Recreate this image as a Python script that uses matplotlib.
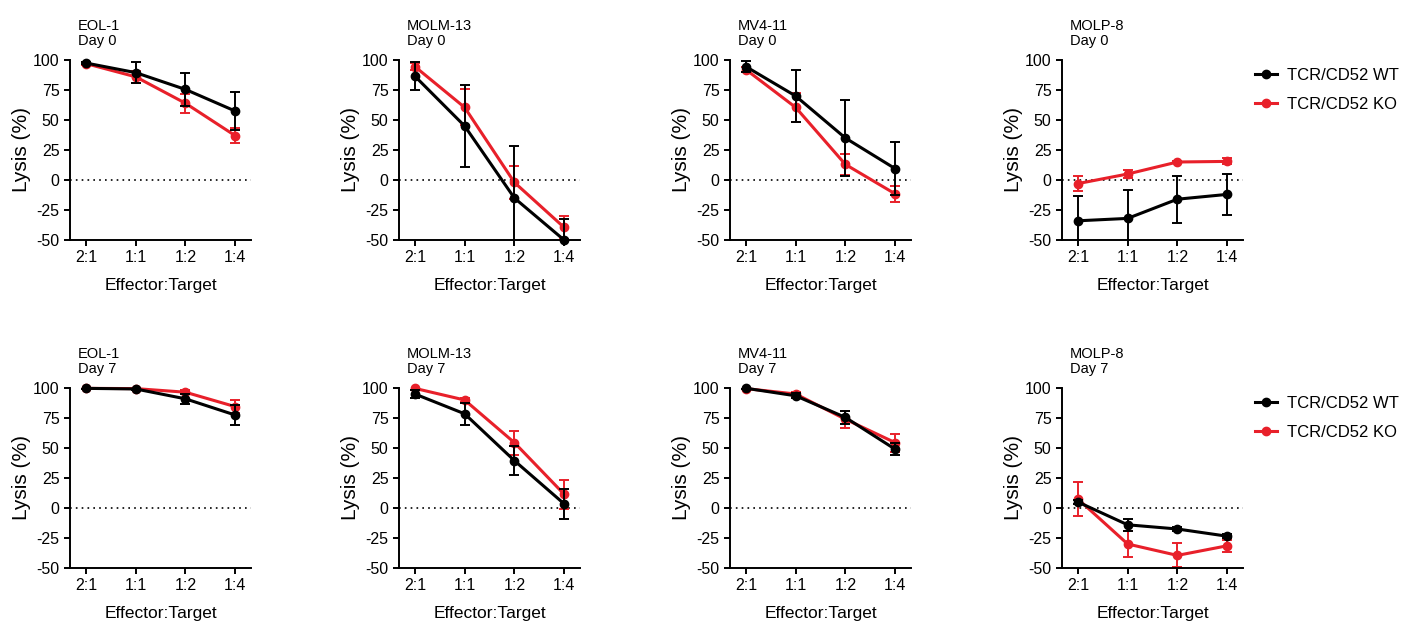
import numpy as np
import matplotlib
matplotlib.use("Agg")
import matplotlib.pyplot as plt

plt.rcParams['font.family'] = ['Liberation Sans', 'DejaVu Sans']
plt.rcParams['axes.unicode_minus'] = False

# data
ratios = ["2:1", "1:1", "1:2", "1:4"]
cells = ["EOL-1", "MOLM-13", "MV4-11", "MOLP-8"]
days = ["Day 0", "Day 7"]

# day 0
wt_d0 = [[97.5, 89.5, 75.5, 57.5],
         [86.5, 45.0, -15.0, -50.0],
         [94.5, 70.0, 35.0, 9.5],
         [-34.0, -32.0, -16.0, -12.0]]
wt_d0_err = [[1.0, 8.5, 13.5, 16.0],
             [11.5, 34.0, 43.0, 17.5],
             [4.5, 22.0, 31.5, 22.0],
             [20.5, 24.0, 19.5, 17.0]]
ko_d0 = [[97.0, 86.0, 64.0, 37.0],
         [94.5, 60.5, -2.0, -39.5],
         [92.0, 60.5, 13.0, -11.5],
         [-3.0, 5.0, 15.0, 15.5]]
ko_d0_err = [[1.0, 5.0, 8.0, 6.5],
             [3.0, 15.0, 14.0, 9.5],
             [2.0, 12.0, 9.0, 6.5],
             [6.5, 3.0, 1.0, 2.5]]

# day 7
wt_d7 = [[99.7, 99.2, 91.0, 77.5],
         [95.0, 78.5, 39.5, 3.5],
         [99.8, 93.5, 75.5, 49.0],
         [5.0, -14.0, -17.5, -23.5]]
wt_d7_err = [[0.5, 0.8, 4.0, 8.5],
             [3.0, 9.0, 12.0, 12.5],
             [0.5, 2.0, 5.5, 5.0],
             [2.0, 5.0, 1.5, 1.5]]
ko_d7 = [[99.7, 99.5, 96.5, 84.5],
         [99.7, 90.0, 54.5, 11.5],
         [99.5, 95.0, 74.0, 54.5],
         [7.5, -30.0, -39.5, -31.5]]
ko_d7_err = [[0.5, 0.5, 1.5, 5.5],
             [1.0, 2.0, 10.0, 12.0],
             [0.5, 2.0, 7.0, 7.5],
             [14.0, 11.0, 10.0, 5.0]]

wt_label = "TCR/CD52 WT"
ko_label = "TCR/CD52 KO"
red = "#E8202A"

W, H = 1403, 623
fig = plt.figure(figsize=(W / 100, H / 100), dpi=100)

lefts = [70, 399, 730, 1062]
row_top = [60, 388]
ax_w, ax_h = 181, 180

x = np.arange(len(ratios))

for r, day in enumerate(days):
    if r == 0:
        wt, wte, ko, koe = wt_d0, wt_d0_err, ko_d0, ko_d0_err
    else:
        wt, wte, ko, koe = wt_d7, wt_d7_err, ko_d7, ko_d7_err
    for c, cell in enumerate(cells):
        ax = fig.add_axes([lefts[c] / W, 1 - (row_top[r] + ax_h) / H,
                           ax_w / W, ax_h / H])
        ax.axhline(0, ls=(0, (1, 2.5)), lw=1.2, color="black", zorder=1)
        for y, e, col, lab, z in [(ko[c], koe[c], red, ko_label, 2),
                                  (wt[c], wte[c], "black", wt_label, 3)]:
            ax.errorbar(x, y, yerr=e, fmt="none", ecolor=col, elinewidth=1.4,
                        capsize=3.5, capthick=1.4, zorder=z)
            ax.plot(x, y, "-o", color=col, lw=2.2, ms=6, label=lab,
                    clip_on=False, zorder=z + 0.5)
        ax.set_xlim(-0.32, 3.32)
        ax.set_ylim(-50, 100)
        ax.set_yticks([-50, -25, 0, 25, 50, 75, 100])
        ax.set_xticks(x)
        ax.set_xticklabels(ratios)
        for s in ["top", "right"]:
            ax.spines[s].set_visible(False)
        for s in ["left", "bottom"]:
            ax.spines[s].set_linewidth(1.4)
        ax.tick_params(width=1.4, length=4.5, labelsize=11.5, pad=3)
        ax.set_ylabel("Lysis (%)", fontsize=15)
        ax.yaxis.set_label_coords(-0.215, 0.5)
        ax.set_xlabel("Effector:Target", fontsize=12.5)
        ax.xaxis.set_label_coords(0.5, -0.21)
        ax.text(0.045, 1.065, cell + "\n" + day, transform=ax.transAxes,
                ha="left", va="bottom", fontsize=10.5, linespacing=1.15)
        if c == 3:
            h, l = ax.get_legend_handles_labels()
            ax.legend(h[::-1], l[::-1], loc="upper left",
                      bbox_to_anchor=(1.03, 0.995), frameon=False,
                      fontsize=12, handlelength=1.3, handletextpad=0.6,
                      labelspacing=0.85, borderaxespad=0)

fig.savefig("out.png", dpi=100)
